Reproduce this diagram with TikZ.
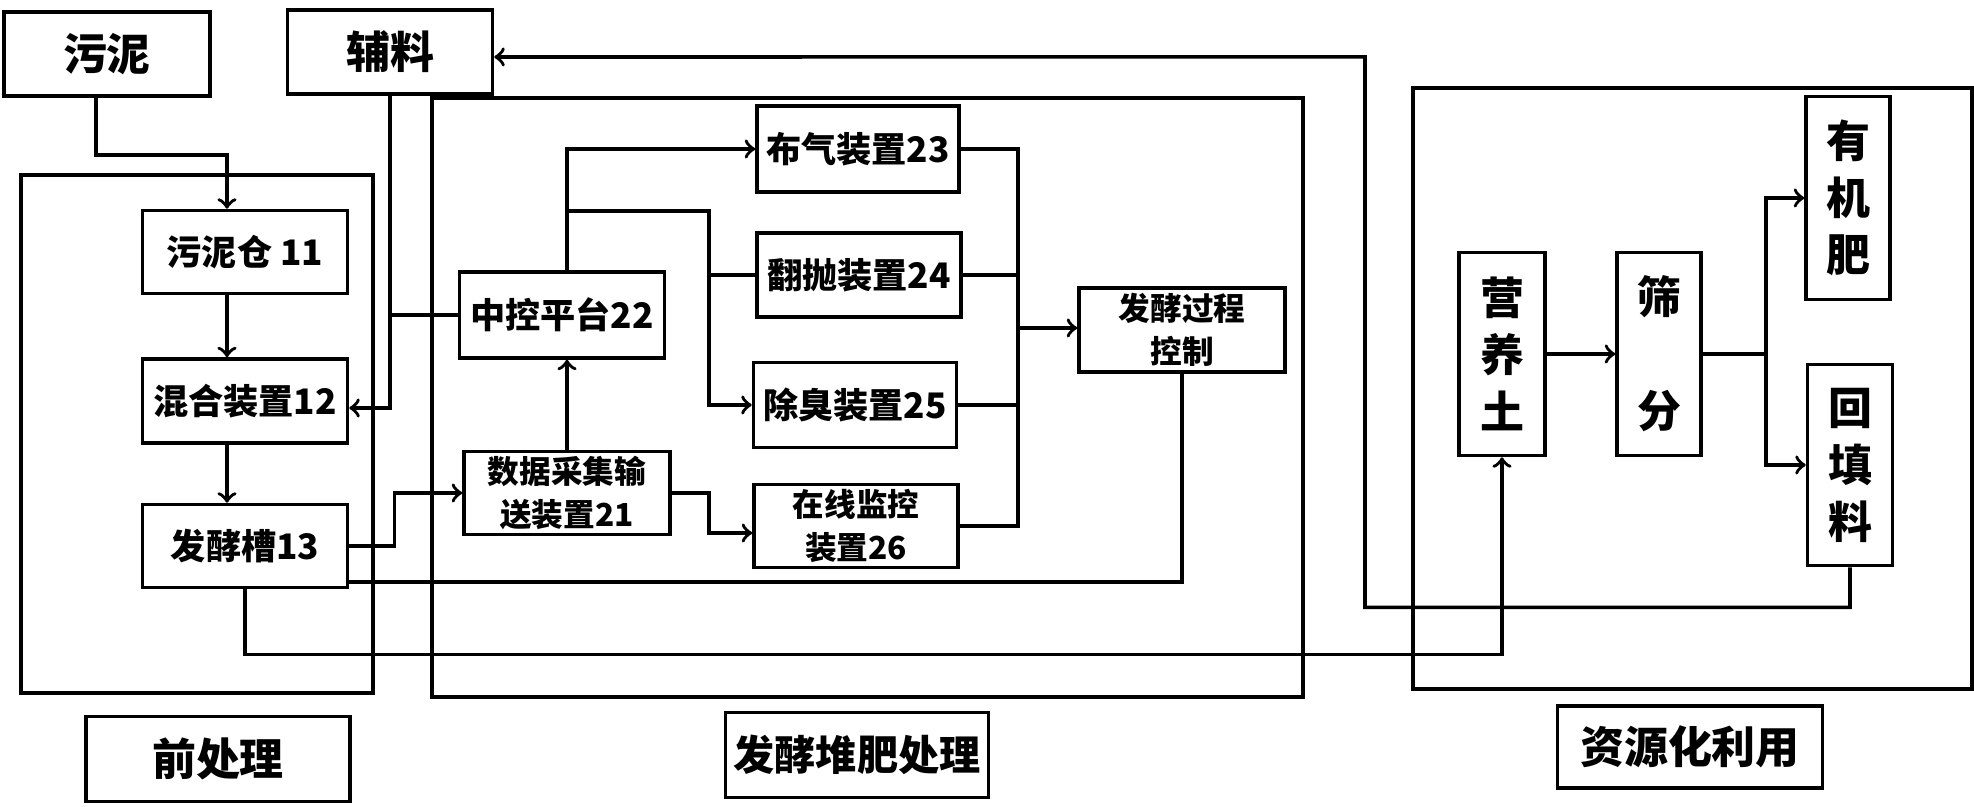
\documentclass[tikz,border=0pt]{standalone}
\usepackage{fontspec}
\setmainfont{Noto Sans CJK SC}
\begin{document}
\begin{tikzpicture}[x=0.01cm, y=-0.01cm, line width=1pt,
    box/.style={draw, inner sep=0pt, align=center, font=\bfseries\fontsize{10}{13}\selectfont},
    small/.style={box, font=\bfseries\fontsize{9}{12.2}\selectfont},
    big/.style={box, font=\bfseries\fontsize{12.5}{15}\selectfont},
    tall/.style={box, font=\bfseries\fontsize{12.5}{16.2}\selectfont},
    frame/.style={draw}]
\useasboundingbox (0,0) rectangle (1974,807);
\draw[frame] (21,175) rectangle (373,693);
\draw[frame] (432,98) rectangle (1303,697);
\draw[frame] (1413,88) rectangle (1972,689);
\node[big, minimum width=2.06cm, minimum height=0.84cm] (sludge) at (107,54) {污泥};
\node[big, minimum width=2.05cm, minimum height=0.84cm] (aux) at (390,52) {辅料};
\node[box, minimum width=2.05cm, minimum height=0.83cm] (bin) at (245,252) {污泥仓 11};
\node[box, minimum width=2.05cm, minimum height=0.84cm] (mixer) at (245,401) {混合装置12};
\node[box, minimum width=2.05cm, minimum height=0.83cm] (tank) at (245,546) {发酵槽13};
\node[box, minimum width=2.05cm, minimum height=0.86cm] (ctrl) at (562,315) {中控平台22};
\node[small, minimum width=2.06cm, minimum height=0.83cm] (daq) at (567,493) {数据采集输\\送装置21};
\node[box, minimum width=2.02cm, minimum height=0.86cm] (air) at (858,149) {布气装置23};
\node[box, minimum width=2.04cm, minimum height=0.84cm] (turn) at (859,275) {翻抛装置24};
\node[box, minimum width=2.03cm, minimum height=0.85cm] (odor) at (855,405) {除臭装置25};
\node[small, minimum width=2.04cm, minimum height=0.83cm] (mon) at (856,526) {在线监控\\装置26};
\node[small, minimum width=2.06cm, minimum height=0.84cm] (proc) at (1182,330) {发酵过程\\控制};
\node[tall, minimum width=0.86cm, minimum height=2.03cm] (soil) at (1502,354) {营\\养\\土};
\node[tall, minimum width=0.84cm, minimum height=2.03cm] (sieve) at (1659,354) {筛\\[16.2pt]分};
\node[tall, minimum width=0.84cm, minimum height=2.03cm] (fert) at (1848,198) {有\\机\\肥};
\node[tall, minimum width=0.85cm, minimum height=2.01cm] (fill) at (1850,465) {回\\填\\料};
\node[big, minimum width=2.64cm, minimum height=0.85cm] (prelbl) at (218,759) {前处理};
\node[box, font=\bfseries\fontsize{11.7}{14}\selectfont, minimum width=2.63cm, minimum height=0.85cm] (ferlbl) at (857,755) {发酵堆肥处理};
\node[big, minimum width=2.65cm, minimum height=0.82cm] (reslbl) at (1690,747) {资源化利用};
\coordinate (split) at (567,211);
\coordinate (tap) at (709,275);
\coordinate (bus) at (1018,328);
\coordinate (fork) at (1766,354);
\draw[->] ([xshift=-0.11cm]sludge.south) -- ++(0,57) -| ([xshift=-0.18cm]bin.north);
\draw[->] ([xshift=-0.18cm]bin.south) -- ([xshift=-0.18cm]mixer.north);
\draw[->] ([xshift=-0.18cm]mixer.south) -- ([xshift=-0.18cm]tank.north);
\draw[->] (aux.south) |- ([yshift=-0.07cm]mixer.east);
\draw (ctrl.west) -- (ctrl.west -| aux.south);
\draw[->] (tank.east) -- ++(45,0) |- (daq.west);
\draw[->] (daq.north) -- (daq.north |- ctrl.south);
\draw[->] (daq.north |- ctrl.north) |- (air.west);
\draw[->] (split) -- (709,211) |- (odor.west);
\draw (tap) -- (turn.west);
\draw[->] (daq.east) -- ++(37,0) |- ([yshift=-0.07cm]mon.west);
\draw (air.east) -| (bus) |- (mon.east);
\draw (turn.east) -- (turn.east -| bus);
\draw (odor.east) -- (odor.east -| bus);
\draw[->] (bus) -- (bus -| proc.west);
\draw (proc.south) |- ([yshift=-0.36cm]tank.east);
\draw[->] (tank.south) -- ++(0,65) -| (soil.south);
\draw[->] (soil.east) -- (sieve.west);
\draw (sieve.east) -- (fork);
\draw[->] (fork) |- (fert.west);
\draw[->] (fork) |- (fill.west);
\draw[->] (fill.south) -- ++(0,40) -| (1365,57) -- ([yshift=-0.05cm]aux.east);
\end{tikzpicture}
\end{document}
